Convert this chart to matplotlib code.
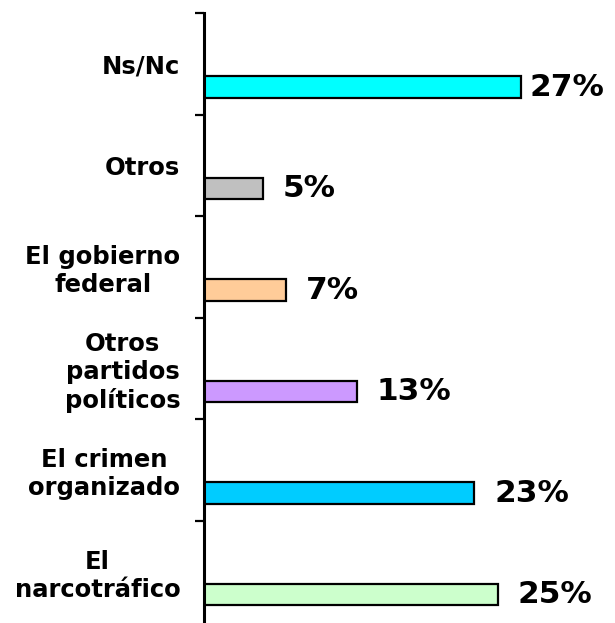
import matplotlib
matplotlib.use("Agg")
import matplotlib.pyplot as plt
import numpy as np

categories = ["Ns/Nc", "Otros", "El gobierno\nfederal", "Otros\npartidos\npolíticos",
              "El crimen\norganizado", "El\nnarcotráfico"]
values = [27, 5, 7, 13, 23, 25]
labels = ["27%", "5%", "7%", "13%", "23%", "25%"]
colors = ["#00FFFF", "#C0C0C0", "#FFCC99", "#CC99FF", "#00CCFF", "#CCFFCC"]

W, H = 615, 623
fig = plt.figure(figsize=(W / 100, H / 100), dpi=100)
left, right, top, bottom = 204, 615, 13, 622
ax = fig.add_axes([left / W, 1 - bottom / H, (right - left) / W, (bottom - top) / H])

pos = np.arange(len(categories))
ax.barh(pos + 0.23, values, height=0.21, color=colors, edgecolor="black", linewidth=1.6)

ax.set_xlim(0, 35)
ax.set_ylim(len(categories) - 0.5, -0.5)

for i, (v, lab) in enumerate(zip(values, labels)):
    ax.text(min(v + 1.7, 27.75), i + 0.23, lab, ha="left", va="center",
            fontsize=22.5, fontweight="heavy", family="DejaVu Sans")

ax.set_yticks(pos)
ax.set_yticklabels(categories, fontsize=17.5, fontweight="heavy", family="DejaVu Sans",
                   ha="right", multialignment="center", linespacing=1.2)
ax.tick_params(axis="y", which="major", length=0, pad=17)
ax.set_yticks(np.arange(-0.5, len(categories) - 1), minor=True)
ax.tick_params(axis="y", which="minor", length=6.5, width=1.6, direction="out")
for lbl in ax.get_yticklabels():
    lbl.set_multialignment("center")

ax.set_xticks([])
for s in ["top", "right", "bottom"]:
    ax.spines[s].set_visible(False)
ax.spines["left"].set_linewidth(2.2)

fig.savefig("out.png", dpi=100)
